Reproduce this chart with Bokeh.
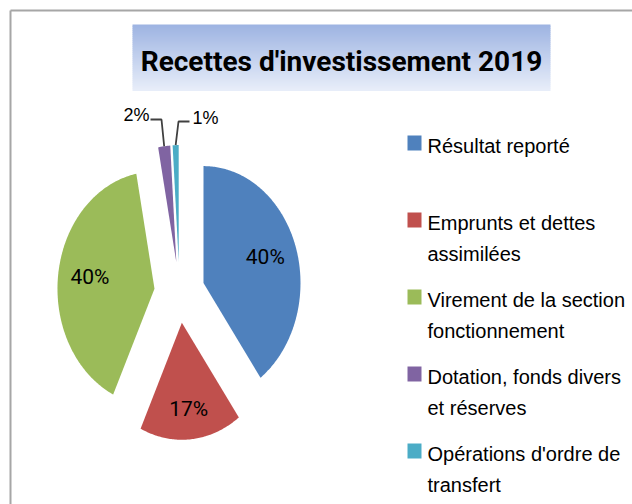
import numpy as np
from bokeh.plotting import figure
from bokeh.models import Range1d
from bokeh.embed import file_html
from bokeh.resources import INLINE
from bokeh.core.properties import value

# ---------------- data ----------------
title = "Recettes d'investissement 2019"
categories = [
    "Résultat reporté",
    "Emprunts et dettes\nassimilées",
    "Virement de la section\nfonctionnement",
    "Dotation, fonds divers\net réserves",
    "Opérations d'ordre de\ntransfert",
]
shares = [40, 17, 40, 2, 1]
share_labels = ["40%", "17%", "40%", "2%", "1%"]
colors = ["#4F81BD", "#C0504D", "#9BBB59", "#8064A2", "#4BACC6"]

# ---------------- layout / style ----------------
W, H = 632, 504
X0, Y0 = 0, 0
cx, cy = 179, 292          # pie centre (page px)
rx, ry = 97, 117           # pie radii (stretched chart)
explode = 0.26
inside_r = [0.67, 0.75, 0.67]
label_font = "Liberation Sans"
title_font = "Roboto"

p = figure(width=W, height=H,
           x_range=Range1d(X0, X0 + W), y_range=Range1d(Y0 + H, Y0),
           output_backend="svg", toolbar_location=None, min_border=0,
           x_axis_location=None, y_axis_location=None)
p.grid.visible = False
p.outline_line_color = None
p.background_fill_color = "white"
p.border_fill_color = "white"

# chart border (top and left visible)
p.line([10, X0 + W], [10, 10], line_color="#A6A6A6", line_width=2)
p.line([10, 10], [10, Y0 + H], line_color="#A6A6A6", line_width=2)

# title box with vertical gradient
bx0, bx1, by0, by1 = 132, 550, 24, 90
nb = 33
c_top = np.array([158, 180, 226])
c_bot = np.array([231, 237, 249])
edges = np.linspace(by0, by1, nb + 1)
band_cols = []
for i in range(nb):
    t = i / (nb - 1)
    c = (c_top * (1 - t) + c_bot * t).round().astype(int)
    band_cols.append("#%02x%02x%02x" % tuple(c))
p.quad(left=[bx0] * nb, right=[bx1] * nb, top=list(edges[:-1]), bottom=list(edges[1:] + 0.5),
       fill_color=band_cols, line_color=None)
p.text(x=[(bx0 + bx1) / 2], y=[61], text=[title], text_font=value(title_font),
       text_font_style="bold", text_font_size="28px", text_color="black",
       text_align="center", text_baseline="middle")

# pie slices
vals = np.array(shares, dtype=float)
frac = vals / vals.sum()
ends = np.cumsum(frac) * 2 * np.pi
starts = ends - frac * 2 * np.pi
mids = (starts + ends) / 2
apx = cx + explode * rx * np.sin(mids)
apy = cy - explode * ry * np.cos(mids)
xs, ys = [], []
for s, e, ax, ay in zip(starts, ends, apx, apy):
    t = np.linspace(s, e, max(4, int((e - s) * 80)))
    xs.append([ax] + list(ax + rx * np.sin(t)))
    ys.append([ay] + list(ay - ry * np.cos(t)))
p.patches(xs, ys, fill_color=colors, line_color=None)

# inside labels
ix = [apx[i] + inside_r[i] * rx * np.sin(mids[i]) for i in range(3)]
iy = [apy[i] - inside_r[i] * ry * np.cos(mids[i]) - 1.5 for i in range(3)]
p.text(x=ix, y=iy, text=share_labels[:3], text_font=value(title_font),
       text_font_size="21px", text_color="black", text_align="center",
       text_baseline="middle")

# outside labels with leader lines (small slices)
edge_x = [apx[i] + rx * np.sin(mids[i]) for i in (3, 4)]
edge_y = [apy[i] - ry * np.cos(mids[i]) for i in (3, 4)]
lab_x = [149, 192]
lab_y = [114, 117]
lab_align = ["right", "left"]
elbow_x = [161, 178]
line_y = [119, 121]
line_start = [150, 189]
for k in range(2):
    p.line([line_start[k], elbow_x[k], edge_x[k]], [line_y[k], line_y[k], edge_y[k]],
           line_color="#404040", line_width=1.8)
    p.text(x=[lab_x[k]], y=[lab_y[k]], text=[share_labels[3 + k]], text_font=value(label_font),
           text_font_size="18px", text_color="black", text_align=lab_align[k],
           text_baseline="middle")

# legend
leg_base = 145
leg_step = 77
line_h = 31
sq_x = 414
txt_x = 427
sq_y = [leg_base + i * leg_step - 2.5 for i in range(len(categories))]
p.rect(x=[sq_x] * len(categories), y=sq_y, width=14, height=15,
       fill_color=colors, line_color=None)
tx, ty, tt = [], [], []
for i, name in enumerate(categories):
    for j, ln in enumerate(name.split("\n")):
        tx.append(txt_x)
        ty.append(leg_base + i * leg_step + j * line_h)
        tt.append(ln)
p.text(x=tx, y=ty, text=tt, text_font=value(label_font), text_font_size="20px",
       text_color="black", text_align="left", text_baseline="middle")

open("out.html", "w").write(file_html(p, INLINE))
